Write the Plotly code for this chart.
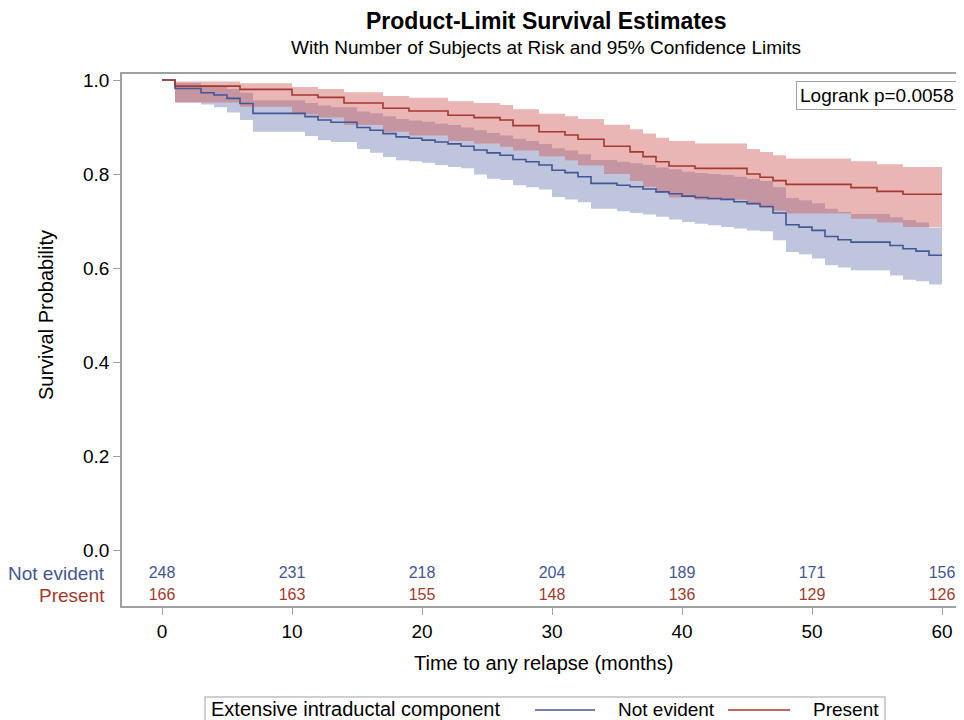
import plotly.graph_objects as go

# ---------------- data ----------------
tick_months = [0, 10, 20, 30, 40, 50, 60]
risk_not_evident = [248, 231, 218, 204, 189, 171, 156]
risk_present = [166, 163, 155, 148, 136, 129, 126]
last_followup = 60

ne_time = [0, 1, 3, 4, 5, 6, 7, 11, 12, 13, 15, 16, 17, 18, 19, 20, 21, 22, 23, 24,
           25, 26, 27, 28, 29, 30, 31, 32, 33, 35, 36, 37, 38, 39, 40, 41, 42, 43, 44,
           45, 46, 47, 48, 49, 50, 51, 52, 53, 56, 57, 58, 59]
ne_surv = [1.0, 0.982, 0.973, 0.968, 0.961, 0.950, 0.929, 0.922, 0.915, 0.910, 0.899,
           0.893, 0.886, 0.879, 0.876, 0.872, 0.868, 0.864, 0.859, 0.851, 0.845, 0.840,
           0.831, 0.826, 0.819, 0.808, 0.803, 0.794, 0.780, 0.776, 0.773, 0.768, 0.762,
           0.758, 0.753, 0.750, 0.748, 0.746, 0.741, 0.737, 0.731, 0.717, 0.692, 0.687,
           0.680, 0.667, 0.660, 0.655, 0.648, 0.641, 0.636, 0.627]
ne_lower = [1.0, 0.952, 0.948, 0.942, 0.931, 0.915, 0.890, 0.881, 0.872, 0.868, 0.853,
            0.845, 0.836, 0.829, 0.827, 0.824, 0.819, 0.815, 0.812, 0.799, 0.790, 0.787,
            0.776, 0.772, 0.767, 0.751, 0.746, 0.740, 0.726, 0.721, 0.717, 0.714, 0.709,
            0.703, 0.698, 0.694, 0.691, 0.687, 0.684, 0.680, 0.678, 0.659, 0.634, 0.629,
            0.620, 0.606, 0.601, 0.595, 0.584, 0.575, 0.572, 0.565]
ne_upper = [1.0, 0.994, 0.989, 0.985, 0.981, 0.973, 0.957, 0.951, 0.946, 0.942, 0.933,
            0.929, 0.923, 0.917, 0.914, 0.911, 0.907, 0.904, 0.899, 0.893, 0.887, 0.882,
            0.875, 0.870, 0.864, 0.855, 0.850, 0.842, 0.830, 0.826, 0.823, 0.819, 0.814,
            0.810, 0.805, 0.802, 0.800, 0.798, 0.794, 0.790, 0.785, 0.772, 0.749, 0.744,
            0.738, 0.726, 0.719, 0.715, 0.708, 0.702, 0.697, 0.686]

pr_time = [0, 1, 6, 10, 12, 14, 17, 19, 22, 24, 26, 27, 29, 31, 32, 34, 36, 37, 38, 39,
           41, 45, 46, 47, 48, 53, 55, 57]
pr_surv = [1.0, 0.987, 0.980, 0.968, 0.963, 0.951, 0.940, 0.934, 0.925, 0.920, 0.915,
           0.903, 0.890, 0.883, 0.874, 0.859, 0.847, 0.837, 0.826, 0.817, 0.812, 0.800,
           0.793, 0.786, 0.778, 0.771, 0.763, 0.757]
pr_upper = [1.0, 0.997, 0.993, 0.985, 0.981, 0.974, 0.966, 0.962, 0.955, 0.951, 0.947,
            0.938, 0.928, 0.923, 0.917, 0.905, 0.895, 0.886, 0.877, 0.870, 0.865, 0.853,
            0.847, 0.840, 0.833, 0.827, 0.821, 0.815]
pr_lower = [1.0, 0.952, 0.943, 0.927, 0.920, 0.904, 0.890, 0.882, 0.870, 0.865, 0.858,
            0.850, 0.838, 0.829, 0.818, 0.800, 0.785, 0.773, 0.760, 0.750, 0.745, 0.735,
            0.728, 0.722, 0.716, 0.705, 0.697, 0.687]

group_names = ["Not evident", "Present"]
legend_title = "Extensive intraductal component"
logrank_text = "Logrank p=0.0058"

# ---------------- style ----------------
FONT = "Liberation Sans, Arial, sans-serif"
BLUE = "#445694"
RED = "#A23A2E"
BLUE_FILL = "rgba(111,126,179,0.45)"
RED_FILL = "rgba(208,91,91,0.45)"
AXIS_GRAY = "#A0A0A0"

OFF = 8                      # default page margin of the html body
W, H = 964 - OFF, 720 - OFF
PL, PR, PT, PB = 122, 963, 74, 606  # plot area in page pixels


def px(x):
    return (x - PL) / (PR - PL)


def py(y):
    return (PB - y) / (PB - PT)


def ext(t, v):
    return list(t) + [last_followup], list(v) + [v[-1]]


fig = go.Figure()

# confidence bands
for t, lo, hi, fillc in [(ne_time, ne_lower, ne_upper, BLUE_FILL),
                         (pr_time, pr_lower, pr_upper, RED_FILL)]:
    x1, y1 = ext(t, lo)
    fig.add_trace(go.Scatter(x=x1, y=y1, mode="lines", line=dict(width=0, shape="hv"),
                             showlegend=False, hoverinfo="skip"))
    x2, y2 = ext(t, hi)
    fig.add_trace(go.Scatter(x=x2, y=y2, mode="lines", line=dict(width=0, shape="hv"),
                             fill="tonexty", fillcolor=fillc,
                             showlegend=False, hoverinfo="skip"))

# survival curves
for t, s, c, name in [(ne_time, ne_surv, BLUE, group_names[0]),
                      (pr_time, pr_surv, RED, group_names[1])]:
    xx, yy = ext(t, s)
    fig.add_trace(go.Scatter(x=xx, y=yy, mode="lines", name=name,
                             line=dict(color=c, width=1.6, shape="hv"),
                             showlegend=False))

# numbers at risk
fig.add_trace(go.Scatter(x=tick_months, y=[-0.05] * len(tick_months), mode="text",
                         text=[str(v) for v in risk_not_evident],
                         textfont=dict(family=FONT, size=16, color=BLUE),
                         showlegend=False, hoverinfo="skip"))
fig.add_trace(go.Scatter(x=tick_months, y=[-0.097] * len(tick_months), mode="text",
                         text=[str(v) for v in risk_present],
                         textfont=dict(family=FONT, size=16, color=RED),
                         showlegend=False, hoverinfo="skip"))

x_lo = -(162 - PL) / 13.0
x_hi = (PR - 162) / 13.0
y_hi = (550 - PT) / 470.0
y_lo = (550 - PB) / 470.0

fig.update_layout(
    width=W, height=H,
    margin=dict(l=PL - OFF, r=W - (PR - OFF), t=PT - OFF, b=H - (PB - OFF), pad=0),
    paper_bgcolor="white", plot_bgcolor="white",
    font=dict(family=FONT, size=19, color="black"),
    xaxis=dict(range=[x_lo, x_hi], tickvals=tick_months, ticks="outside", ticklen=7,
               tickcolor=AXIS_GRAY, showline=True, linecolor=AXIS_GRAY, linewidth=1.5,
               mirror=True, showgrid=False, zeroline=False,
               tickfont=dict(family=FONT, size=19, color="black")),
    yaxis=dict(range=[y_lo, y_hi], tickvals=[0, 0.2, 0.4, 0.6, 0.8, 1.0],
               ticktext=["0.0", "0.2", "0.4", "0.6", "0.8", "1.0"],
               ticks="outside", ticklen=7, tickcolor=AXIS_GRAY, showline=True,
               linecolor=AXIS_GRAY, linewidth=1.5, showgrid=False, zeroline=False,
               tickfont=dict(family=FONT, size=19, color="black")),
    showlegend=False,
)

ann = []
ann.append(dict(text="<b>Product-Limit Survival Estimates</b>", xref="paper", yref="paper",
                x=px(546), y=py(21), xanchor="center", yanchor="middle", showarrow=False,
                font=dict(family=FONT, size=23, color="black")))
ann.append(dict(text="With Number of Subjects at Risk and 95% Confidence Limits",
                xref="paper", yref="paper", x=px(546), y=py(47), xanchor="center",
                yanchor="middle", showarrow=False,
                font=dict(family=FONT, size=19, color="black")))
ann.append(dict(text="Survival Probability", xref="paper", yref="y", x=px(46), y=0.5,
                textangle=-90, xanchor="center", yanchor="middle", showarrow=False,
                font=dict(family=FONT, size=20, color="black")))
ann.append(dict(text="Time to any relapse (months)", xref="paper", yref="paper",
                x=px(543), y=py(663), xanchor="center", yanchor="middle", showarrow=False,
                font=dict(family=FONT, size=20, color="black")))
ann.append(dict(text=group_names[0], xref="paper", yref="y", x=px(107), y=-0.05,
                xanchor="right", yanchor="middle", showarrow=False,
                font=dict(family=FONT, size=19, color=BLUE)))
ann.append(dict(text=group_names[1], xref="paper", yref="y", x=px(107), y=-0.097,
                xanchor="right", yanchor="middle", showarrow=False,
                font=dict(family=FONT, size=19, color=RED)))
ann.append(dict(text=logrank_text, xref="paper", yref="paper", x=px(958), y=py(96),
                xanchor="right", yanchor="middle", showarrow=False,
                bordercolor=AXIS_GRAY, borderwidth=1, borderpad=3, bgcolor="white",
                font=dict(family=FONT, size=19, color="black")))
# legend
ann.append(dict(text=legend_title, xref="paper", yref="paper", x=px(209), y=py(709),
                xanchor="left", yanchor="middle", showarrow=False,
                font=dict(family=FONT, size=20, color="black")))
ann.append(dict(text=group_names[0], xref="paper", yref="paper", x=px(616), y=py(709),
                xanchor="left", yanchor="middle", showarrow=False,
                font=dict(family=FONT, size=19, color="black")))
ann.append(dict(text=group_names[1], xref="paper", yref="paper", x=px(811), y=py(709),
                xanchor="left", yanchor="middle", showarrow=False,
                font=dict(family=FONT, size=19, color="black")))
fig.update_layout(annotations=ann)

shapes = [
    dict(type="rect", xref="paper", yref="paper", x0=px(205), x1=px(885), y0=py(697),
         y1=py(722), line=dict(color="#C0C0C0", width=1.5), fillcolor="rgba(0,0,0,0)"),
    dict(type="line", xref="paper", yref="paper", x0=px(535), x1=px(595), y0=py(710),
         y1=py(710), line=dict(color=BLUE, width=1.6)),
    dict(type="line", xref="paper", yref="paper", x0=px(728), x1=px(790), y0=py(710),
         y1=py(710), line=dict(color=RED, width=1.6)),
]
fig.update_layout(shapes=shapes)

fig.write_html("out.html")
